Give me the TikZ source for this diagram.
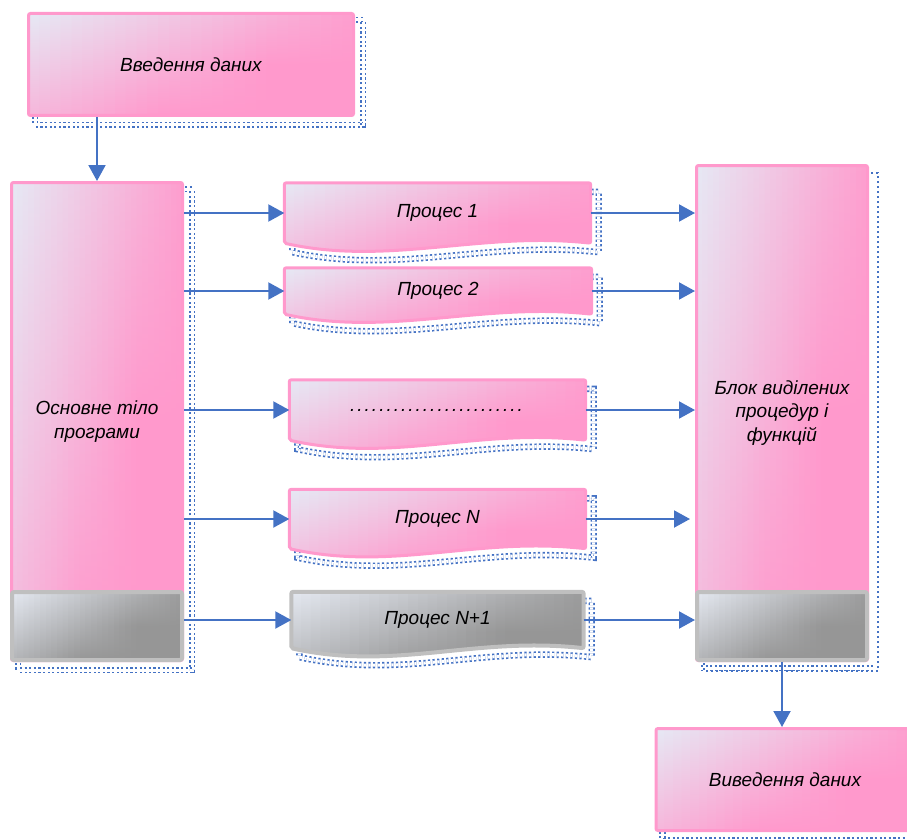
\documentclass[tikz,border=0pt]{standalone}
\usepackage{fontspec}
\setmainfont{Liberation Sans}
\usepackage{xcolor}
\usepackage{tikz}
\usetikzlibrary{calc, arrows.meta, backgrounds}

\definecolor{pinkmain}{HTML}{FF99CC}
\definecolor{lavender}{HTML}{E6E8F4}
\definecolor{graylight}{HTML}{E4E8F0}
\definecolor{graydark}{HTML}{969696}
\definecolor{grayedge}{HTML}{BFBFBF}
\definecolor{linkblue}{HTML}{4472C4}

\tikzset{
	txt/.style={font=\itshape\fontsize{19}{23.5}\selectfont, align=center, inner sep=0pt},
	diagshade/.style 2 args={path picture={
		\foreach \i in {0,...,29}{
			\pgfmathsetmacro\ptop{int(min(100,(0.75*(\i+0.5)/30)/0.8*100))}
			\pgfmathsetmacro\pmid{int(min(100,(0.75*(\i+0.5)/30+0.25)/0.8*100))}
			\pgfmathsetmacro\pbot{int(min(100,(0.75*(\i+0.5)/30+0.5)/0.8*100))}
			\shade[top color=#2!\ptop!#1, bottom color=#2!\pbot!#1, middle color=#2!\pmid!#1]
				($(path picture bounding box.north west)!{\i/30}!(path picture bounding box.north east)$) rectangle
				($(path picture bounding box.south west)!{(\i+1.1)/30}!(path picture bounding box.south east)$);
		}}},
	pinkshade/.style={diagshade={lavender}{pinkmain}},
	grayshade/.style={diagshade={graylight}{graydark}},
	pinkbox/.style={txt, draw=pinkmain, line width=3pt, rounded corners=2pt, pinkshade},
	graybox/.style={draw=grayedge, line width=4pt, rounded corners=2pt, grayshade},
	proc/.style={txt, minimum width=300pt},
	shadowline/.style={draw=linkblue, line width=1.7pt, double=white, double distance=3pt, dash pattern=on 2.2pt off 2.4pt},
	shadowthin/.style={draw=linkblue, line width=1.5pt, dash pattern=on 2pt off 3pt},
	link/.style={draw=linkblue, line width=2pt, -{Triangle[length=16pt,width=17pt]}}
}

\newcommand{\wavebox}[3]{%
	\path[#2] ($(#1.north west)+#3$) -- ($(#1.north east)+#3$) -- ($(#1.south east)+#3$)
		.. controls ($(#1.south east)+#3+(-110,-12)$) and ($(#1.south west)+#3+(105,23)$) .. ($(#1.south west)+#3$) -- cycle;}

\begin{document}
\begin{tikzpicture}[x=1pt, y=-1pt]
	\useasboundingbox (0,0) rectangle (907,840);
	
	\begin{scope}
		\node[pinkbox, minimum width=325pt, minimum height=102pt] (in) at (191,64.5) {Введення даних};
		\node[pinkbox, minimum width=171pt, minimum height=478pt] (main) at (97,421.5) {Основне тіло\\програми};
		\node[graybox, minimum width=170pt, minimum height=68pt, anchor=south] (mainbase) at (main.south) {};
		\node[pinkbox, minimum width=171pt, minimum height=495pt] (right) at (782,413) {Блок виділених\\процедур і\\функцій};
		\node[graybox, minimum width=170pt, minimum height=68pt, anchor=south] (rightbase) at (right.south) {};
		\node[pinkbox, minimum width=258pt, minimum height=102pt] (out) at (785,779.5) {Виведення даних};
	\end{scope}
	
	\begin{scope}
		\node[proc, minimum width=306pt, minimum height=60pt] (p1) at (437.5,213) {Процес 1};
		\node[proc, minimum width=307pt, minimum height=46pt] (p2) at (438,291) {Процес 2};
		\node[proc, minimum width=296pt, minimum height=60pt] (pdots) at (437.5,410) {\foreach \k in {1,...,24}{.\kern2pt}};
		\node[proc, minimum width=296pt, minimum height=59pt] (pN) at (437.5,519) {Процес N};
		\node[proc, minimum width=292pt, minimum height=56pt] (pN1) at (437.5,620) {Процес N+1};
	\end{scope}
	
	\begin{pgfonlayer}{background}
		\draw[shadowline] ($(in.north west)+(8,8)$) rectangle ($(in.south east)+(8,8)$);
		\draw[shadowline] ($(main.north west)+(8,8)$) rectangle ($(main.south east)+(8,8)$);
		\draw[shadowthin] ($(right.north west)+(9,9)$) rectangle ($(right.south east)+(9,9)$);
		\draw[shadowline] ($(rightbase.south west)+(6,6)$) -- ($(rightbase.south east)+(6,6)$);
		\draw[shadowline] ($(out.north west)+(8,8)$) rectangle ($(out.south east)+(8,8)$);
		\foreach \p in {p1,p2,pdots,pN,pN1}
			\wavebox{\p}{shadowline}{(8,9)};
		\foreach \p in {p1,p2,pdots,pN}
			\wavebox{\p}{draw=pinkmain, line width=3pt, rounded corners=2pt, pinkshade}{(0,0)};
		\wavebox{pN1}{draw=grayedge, line width=4pt, rounded corners=2pt, grayshade}{(0,0)};
	\end{pgfonlayer}
	
	\begin{scope}
		\draw[link] (in.south -| main.north) -- (main.north);
		\foreach \p in {p1,p2,pdots,pN,pN1}
			\draw[link] (main.east |- \p.west) -- (\p.west);
		\foreach \p in {p1,p2,pdots,pN1}
			\draw[link] (\p.east) -- (right.west |- \p.east);
		\draw[link, shorten >=5pt] (pN.east) -- (right.west |- pN.east);
		\draw[link] (rightbase.south) -- (rightbase.south |- out.north);
	\end{scope}
\end{tikzpicture}
\end{document}
